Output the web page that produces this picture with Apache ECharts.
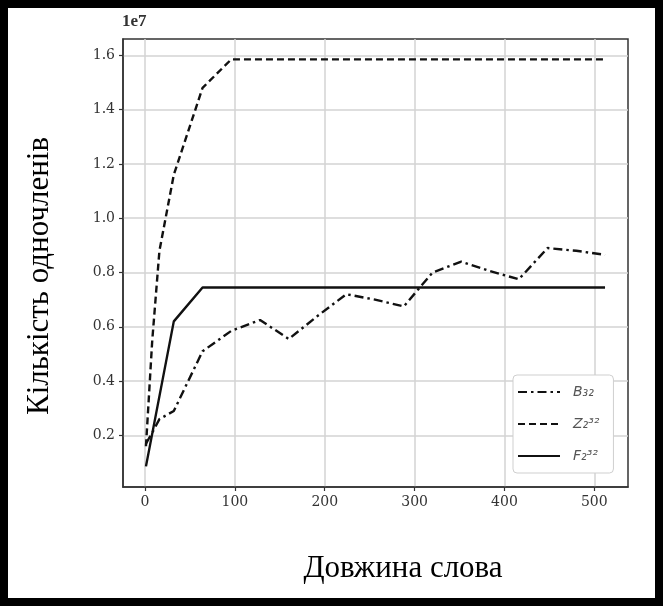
<!DOCTYPE html>
<html>
<head>
<meta charset="utf-8">
<script src="https://cdn.jsdelivr.net/npm/echarts@6/dist/echarts.min.js"></script>
<style>
html,body{margin:0;padding:0;background:#fff;}
#c{width:663px;height:606px;}
</style>
</head>
<body>
<div id="c"></div>
<script>
// values of the y axis are in units of 1e7
const B_x = [1, 8, 16, 32, 64, 96, 128, 160, 192, 224, 256, 288, 320, 352, 384, 416, 448, 480, 512];
const B_y = [0.17, 0.21, 0.26, 0.29, 0.51, 0.585, 0.625, 0.555, 0.64, 0.72, 0.70, 0.675, 0.80, 0.84, 0.805, 0.775, 0.89, 0.88, 0.865];

const Z_x = [1, 8, 16, 32, 64, 96, 128, 160, 192, 224, 256, 288, 320, 352, 384, 416, 448, 480, 512];
const Z_y = [0.16, 0.55, 0.88, 1.16, 1.48, 1.585, 1.585, 1.585, 1.585, 1.585, 1.585, 1.585, 1.585, 1.585, 1.585, 1.585, 1.585, 1.585, 1.585];

const F_x = [1, 32, 64, 96, 128, 160, 192, 224, 256, 288, 320, 352, 384, 416, 448, 480, 512];
const F_y = [0.086, 0.62, 0.745, 0.745, 0.745, 0.745, 0.745, 0.745, 0.745, 0.745, 0.745, 0.745, 0.745, 0.745, 0.745, 0.745, 0.745];

const seriesNames = ['B₃₂', 'Z₂³²', 'F₂³²'];
const xTicks = [0, 100, 200, 300, 400, 500];
const yTicks = [0.2, 0.4, 0.6, 0.8, 1.0, 1.2, 1.4, 1.6];

const pairs = (xs, ys) => xs.map((x, i) => [x, ys[i]]);

const chart = echarts.init(document.getElementById('c'), null, {renderer: 'canvas'});
const tickFont = {fontFamily: 'DejaVu Serif', fontSize: 14, color: '#333'};
const lineCol = '#111';

chart.setOption({
  animation: false,
  backgroundColor: '#fff',
  grid: {left: 123, right: 35, top: 39, bottom: 119, show: true, borderColor: '#333', borderWidth: 1.5, backgroundColor: 'transparent'},
  xAxis: {
    type: 'value', min: -24.55, max: 537.55,
    axisLine: {show: true, onZero: false, lineStyle: {color: '#333', width: 1.5}},
    axisTick: {show: true, length: 4, customValues: xTicks, lineStyle: {color: '#333', width: 1.2}},
    axisLabel: Object.assign({customValues: xTicks, margin: 8, formatter: v => String(v)}, tickFont),
    splitLine: {show: true, lineStyle: {color: '#d3d3d3', width: 1.5}}
  },
  yAxis: {
    type: 'value', min: 0.01, max: 1.66,
    axisLine: {show: true, onZero: false, lineStyle: {color: '#333', width: 1.5}},
    axisTick: {show: true, length: 4, customValues: yTicks, lineStyle: {color: '#333', width: 1.2}},
    axisLabel: Object.assign({customValues: yTicks, margin: 8, formatter: v => v.toFixed(1)}, tickFont),
    splitLine: {show: true, lineStyle: {color: '#d3d3d3', width: 1.5}}
  },
  legend: {
    orient: 'vertical', left: 513, top: 375,
    itemWidth: 42, itemHeight: 14, itemGap: 18,
    padding: [10, 14, 10, 4],
    backgroundColor: '#fff', borderColor: '#cfcfcf', borderWidth: 1, borderRadius: 4,
    itemStyle: {color: 'rgba(0,0,0,0)', borderWidth: 0, opacity: 0},
    textStyle: {fontFamily: 'DejaVu Sans', fontStyle: 'italic', fontSize: 14, color: '#555', padding: [0, 0, 0, 8]},
    data: seriesNames
  },
  series: [
    {name: seriesNames[0], type: 'line', symbol: 'none', data: pairs(B_x, B_y),
     lineStyle: {color: lineCol, width: 2.4, type: [9, 4, 2.5, 4]}, itemStyle: {color: lineCol}},
    {name: seriesNames[1], type: 'line', symbol: 'none', data: pairs(Z_x, Z_y),
     lineStyle: {color: lineCol, width: 2.4, type: [7, 4]}, itemStyle: {color: lineCol}},
    {name: seriesNames[2], type: 'line', symbol: 'none', data: pairs(F_x, F_y),
     lineStyle: {color: lineCol, width: 2.4, type: 'solid'}, itemStyle: {color: lineCol}}
  ],
  graphic: [
    {type: 'rect', shape: {x: 4, y: 4, width: 655, height: 598}, style: {fill: 'none', stroke: '#000', lineWidth: 8}, silent: true},
    {type: 'text', left: 122, top: 13, style: {text: '1e7', font: 'bold 17px "Liberation Serif"', fill: '#333'}},
    {type: 'text', x: 403, y: 569, style: {text: 'Довжина слова', font: '31px "Liberation Serif"', fill: '#000', align: 'center', verticalAlign: 'middle'}},
    {type: 'text', x: 40, y: 276, rotation: Math.PI / 2, style: {text: 'Кількість одночленів', font: '31px "Liberation Serif"', fill: '#000', align: 'center', verticalAlign: 'middle'}}
  ]
});
</script>
</body>
</html>
